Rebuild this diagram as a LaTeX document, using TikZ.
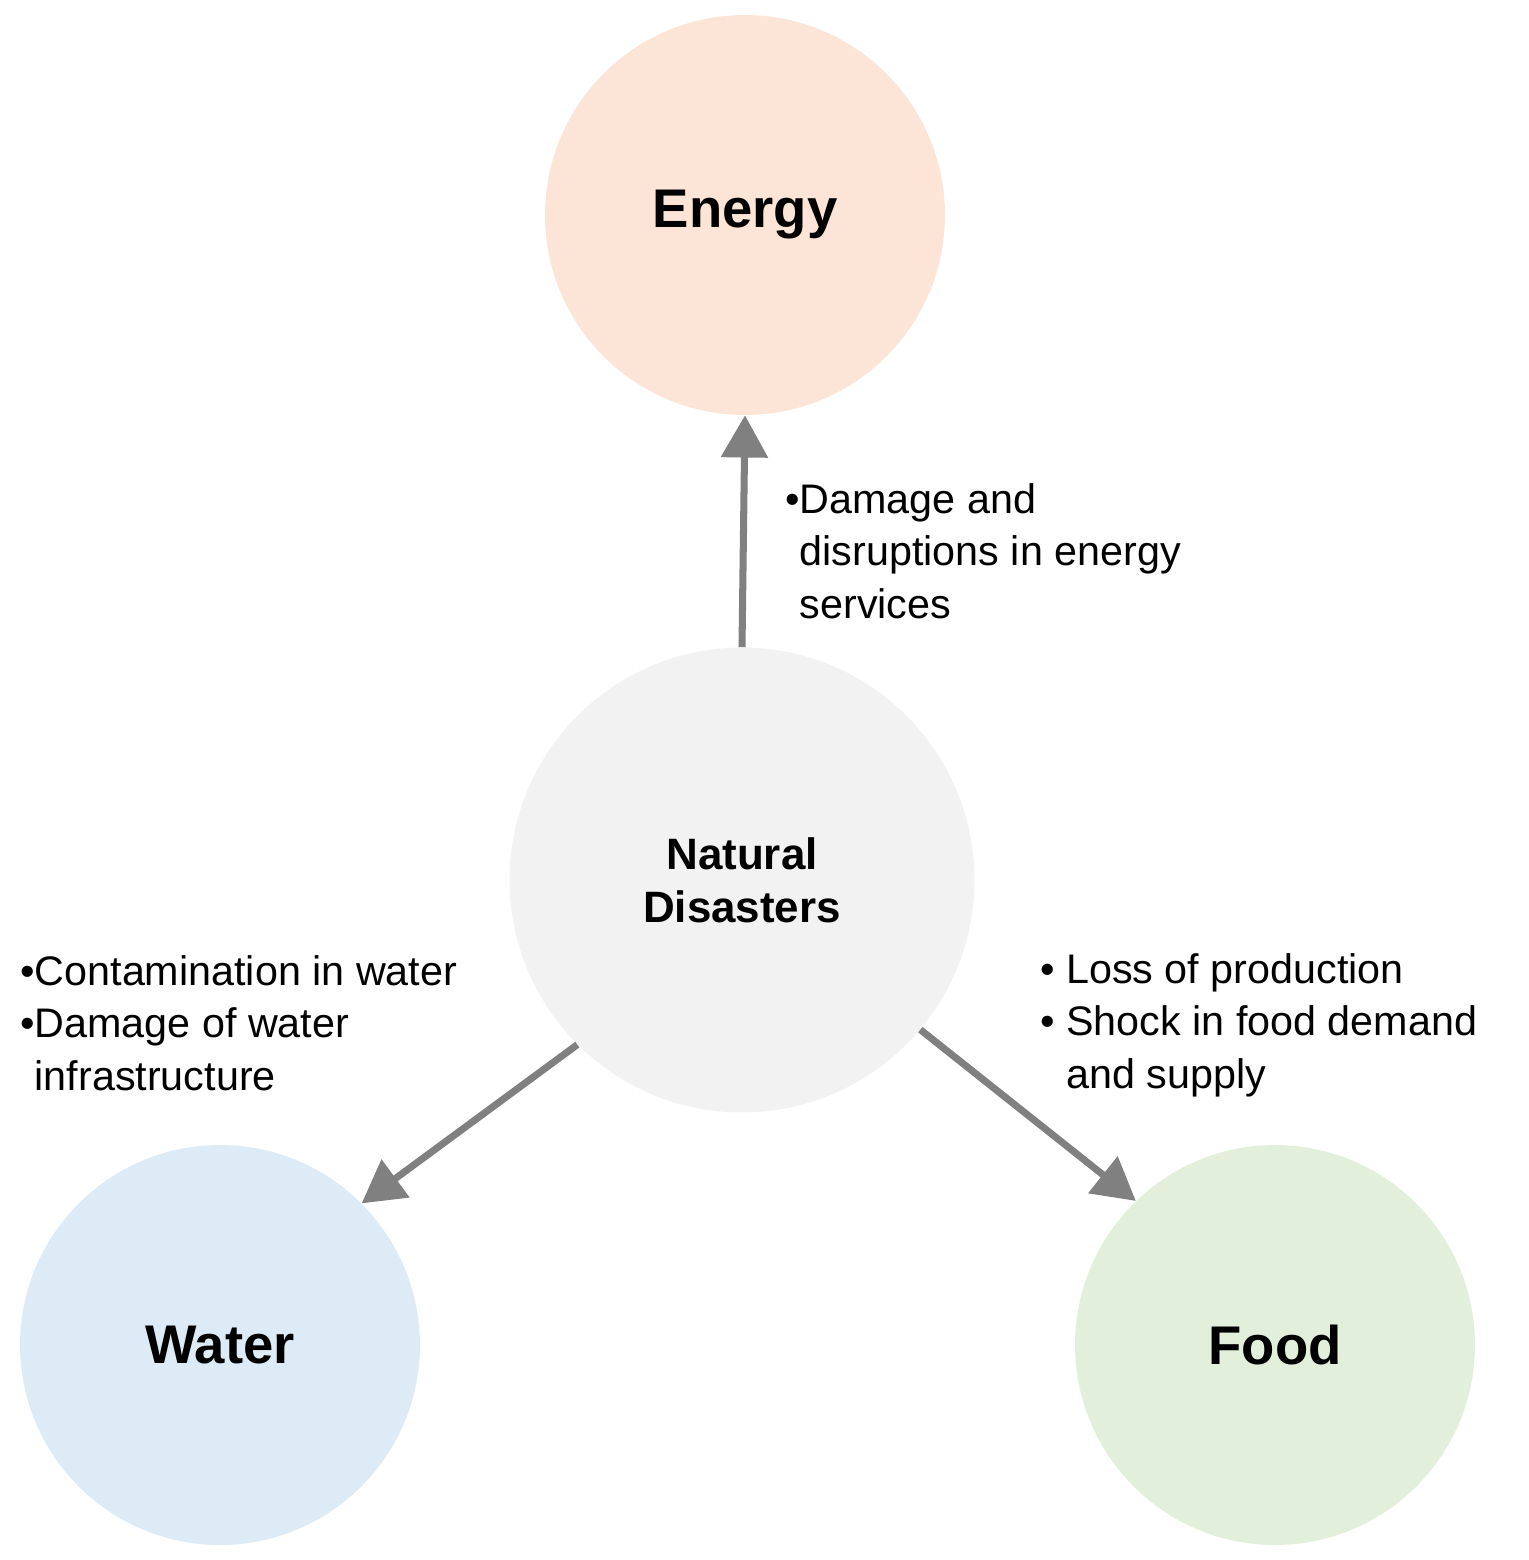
\documentclass[tikz,border=0pt]{standalone}
\usepackage{fontspec}
\setmainfont{Liberation Sans}
\usetikzlibrary{arrows.meta}
\definecolor{energyfill}{HTML}{FCE4D6}
\definecolor{diskfill}{HTML}{F2F2F2}
\definecolor{waterfill}{HTML}{DDEBF7}
\definecolor{foodfill}{HTML}{E2EFDA}
\definecolor{arrowgray}{HTML}{808080}
\begin{document}
\begin{tikzpicture}[x=0.02cm,y=-0.02cm,
    hub/.style={circle,inner sep=0pt,font=\fontsize{31}{36}\selectfont\bfseries},
    link/.style={draw=arrowgray,line width=4pt,-{Triangle[width=26pt,length=24pt]}},
    note/.style={anchor=north west,align=left,inner sep=0pt,font=\fontsize{23.5}{30}\selectfont}]
  \useasboundingbox (0,0) rectangle (1529,1560);
  \node[hub,fill=energyfill,minimum size=8cm] (energy) at (745,215) {Energy};
  \node[hub,fill=diskfill,minimum size=9.3cm,align=center,font=\fontsize{25}{30}\selectfont\bfseries] (nd) at (742,880) {Natural\\Disasters};
  \node[hub,fill=waterfill,minimum size=8cm] (water) at (220,1345) {Water};
  \node[hub,fill=foodfill,minimum size=8cm] (food) at (1275,1345) {Food};

  %arrows
  \draw[link] (nd.north) -- (energy.south);
  \draw[link] (nd.225) -- (water.45);
  \draw[link] (nd.-40) -- (food.134);

  %labels
  \node[note] (enote) at (785,483) {•Damage and\\\phantom{•}disruptions in energy\\\phantom{•}services};
  \node[note] (wnote) at (20,955) {•Contamination in water\\•Damage of water\\\phantom{•}infrastructure};
  \node[note] (fnote) at (1040,953) {• Loss of production\\• Shock in food demand\\\phantom{• }and supply};
\end{tikzpicture}
\end{document}
